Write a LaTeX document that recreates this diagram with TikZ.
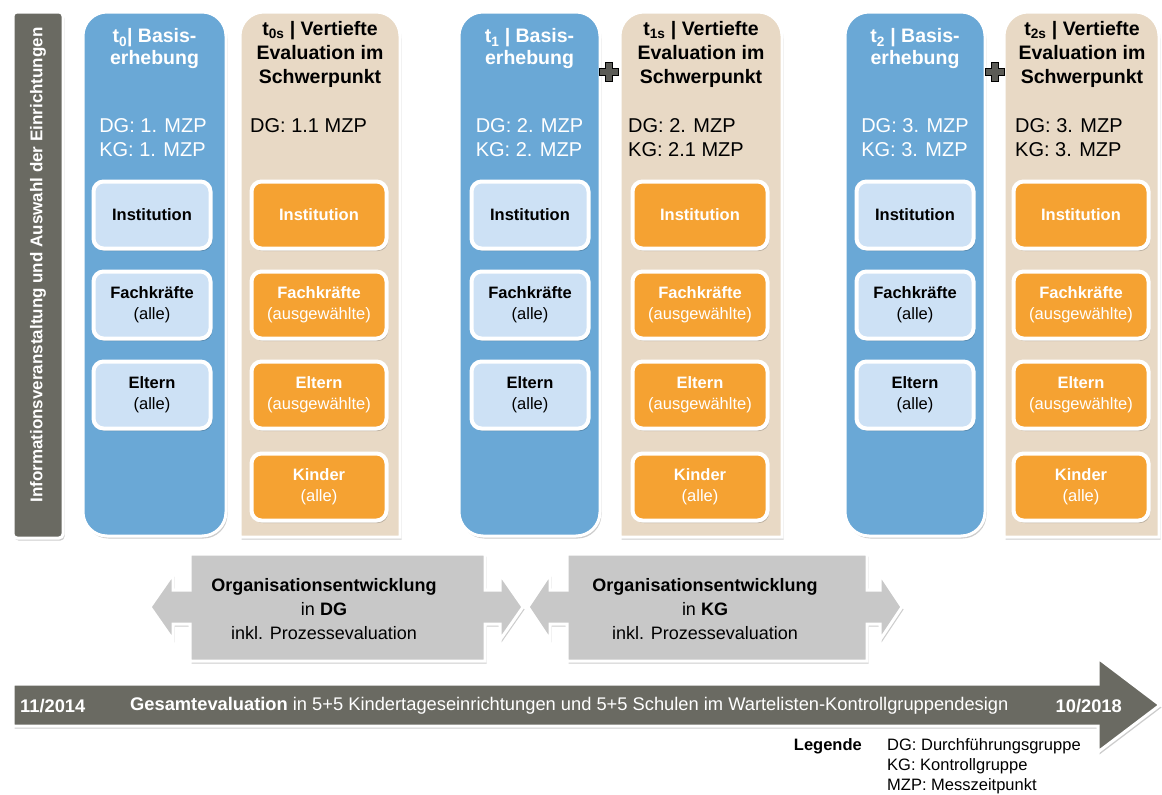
\documentclass[tikz,border=0pt]{standalone}
\usepackage{fontspec}
\setmainfont{Liberation Sans}
\usetikzlibrary{shadows}

\definecolor{colblue}{HTML}{6AA8D6}
\definecolor{boxblue}{HTML}{CDE1F5}
\definecolor{colbeige}{HTML}{E8D9C5}
\definecolor{boxorange}{HTML}{F5A232}
\definecolor{arrowgray}{HTML}{C8C8C8}
\definecolor{slatebar}{HTML}{6A6A62}
\definecolor{plusgray}{HTML}{5B5B56}

\newcommand{\fsHead}{\fontsize{19.5}{22}\selectfont\bfseries}
\newcommand{\fsHeadS}{\fontsize{19.5}{24}\selectfont\bfseries}
\newcommand{\fsMzp}{\fontsize{20}{24}\selectfont}
\newcommand{\fsBox}{\fontsize{16.5}{21}\selectfont}
\newcommand{\fsOrg}{\fontsize{18}{24}\selectfont}
\newcommand{\fsTime}{\fontsize{18.3}{21}\selectfont}
\newcommand{\fsLeg}{\fontsize{16.5}{20}\selectfont}

\begin{document}
\begin{tikzpicture}[x=1pt,y=1pt,
  softshadow/.style={drop shadow={shadow xshift=1.5pt,shadow yshift=-2.5pt,opacity=0.2,fill=black}},
  whiteedge/.style={draw=white,line width=3pt},
  bluecol/.style={fill=colblue,whiteedge,rounded corners=24pt,softshadow},
  beigecol/.style={fill=colbeige,whiteedge,softshadow},
  innerbox/.style={draw=white,line width=4pt,rounded corners=10pt,minimum height=67pt,
    align=center,font=\fsBox,softshadow},
  bluebox/.style={innerbox,fill=boxblue,text=black,minimum width=117pt},
  orangebox/.style={innerbox,fill=boxorange,text=white,minimum width=135pt},
  bluehead/.style={align=center,font=\fsHead,text=white,inner sep=0pt},
  beigehead/.style={align=center,font=\fsHeadS,text=black,inner sep=0pt},
  mzpblue/.style={align=left,font=\fsMzp,text=white,inner sep=0pt},
  mzpbeige/.style={align=left,font=\fsMzp,text=black,inner sep=0pt,anchor=west},
  plusmark/.style={fill=plusgray,draw=black,line width=0.6pt},
  orgarrow/.style={fill=arrowgray,whiteedge,line join=miter,softshadow},
  orgtext/.style={align=center,font=\fsOrg,text=black,inner sep=0pt},
  timetext/.style={font=\fsTime,text=white,inner sep=0pt},
  legtext/.style={font=\fsLeg,text=black,inner sep=0pt}
]
\useasboundingbox (0,0) rectangle (1162,-795);

% side bar with the preparatory phase
\path[fill=slatebar,whiteedge,rounded corners=4pt,softshadow] (13,-12) rectangle (63,-538);
\node[rotate=90,font=\fontsize{17}{20}\selectfont\bfseries,text=white,inner sep=0pt] (info)
  at (38,-265) {Informationsveranstaltung und Auswahl der Einrichtungen};

% basic survey columns
\path[bluecol] (83,-12) rectangle (226,-536);
\path[bluecol] (459,-12) rectangle (600,-536);
\path[bluecol] (845,-12) rectangle (985,-536);

% in-depth evaluation columns (rounded at the top only)
\foreach \xa/\xb in {240/400, 620/782, 1004/1159}{
  \path[beigecol] (\xa,-537) -- (\xa,-36) arc[start angle=180,end angle=90,radius=24pt]
    -- (\xb-24,-12) arc[start angle=90,end angle=0,radius=24pt] -- (\xb,-537) -- cycle;
}

% plus signs between the columns
\foreach \px in {609,995}{
  \path[plusmark,shift={(\px,-72)}] (-3.5,-9.5) -- (3.5,-9.5) -- (3.5,-3.5) -- (9.5,-3.5)
    -- (9.5,3.5) -- (3.5,3.5) -- (3.5,9.5) -- (-3.5,9.5) -- (-3.5,3.5) -- (-9.5,3.5)
    -- (-9.5,-3.5) -- (-3.5,-3.5) -- cycle;
}

% column headings
\node[bluehead] (h0) at (154.5,-49) {t\textsubscript{0}| Basis-\\erhebung};
\node[bluehead] (h1) at (529.5,-49) {t\textsubscript{1} | Basis-\\erhebung};
\node[bluehead] (h2) at (915,-49) {t\textsubscript{2} | Basis-\\erhebung};
\node[beigehead] (s0) at (320,-54) {t\textsubscript{0s} | Vertiefte\\Evaluation im\\Schwerpunkt};
\node[beigehead] (s1) at (701,-54) {t\textsubscript{1s} | Vertiefte\\Evaluation im\\Schwerpunkt};
\node[beigehead] (s2) at (1082,-54) {t\textsubscript{2s} | Vertiefte\\Evaluation im\\Schwerpunkt};

% measurement points
\node[mzpblue] (m0) at (153,-138) {DG: 1. MZP\\KG: 1. MZP};
\node[mzpblue] (m1) at (529.5,-138) {DG: 2. MZP\\KG: 2. MZP};
\node[mzpblue] (m2) at (915,-138) {DG: 3. MZP\\KG: 3. MZP};
\node[mzpbeige] (n0) at (250,-126) {DG: 1.1 MZP};
\node[mzpbeige] (n1) at (628,-138) {DG: 2. MZP\\KG: 2.1 MZP};
\node[mzpbeige] (n2) at (1015,-138) {DG: 3. MZP\\KG: 3. MZP};

% survey groups, basic survey
\foreach \c/\x in {0/152, 1/530, 2/915}{
  \node[bluebox] (b\c i) at (\x,-215) {\textbf{Institution}};
  \node[bluebox] (b\c f) at (\x,-305) {\textbf{Fachkräfte}\\(alle)};
  \node[bluebox] (b\c e) at (\x,-395) {\textbf{Eltern}\\(alle)};
}

% survey groups, in-depth evaluation
\foreach \c/\x in {0/319, 1/700, 2/1081}{
  \node[orangebox] (o\c i) at (\x,-215) {\textbf{Institution}};
  \node[orangebox] (o\c f) at (\x,-305) {\textbf{Fachkräfte}\\(ausgewählte)};
  \node[orangebox] (o\c e) at (\x,-395) {\textbf{Eltern}\\(ausgewählte)};
  \node[orangebox] (o\c k) at (\x,-487) {\textbf{Kinder}\\(alle)};
}

% organisational development, two-headed callout arrows
\path[orgarrow] (150,-607) -- (173,-574) -- (173,-590) -- (190,-590) -- (190,-554)
  -- (485,-554) -- (485,-590) -- (500,-590) -- (500,-574) -- (523,-607)
  -- (500,-640) -- (500,-624) -- (485,-624) -- (485,-661) -- (190,-661)
  -- (190,-624) -- (173,-624) -- (173,-640) -- cycle;
\path[orgarrow] (528,-607) -- (550,-574) -- (550,-590) -- (567,-590) -- (567,-554)
  -- (867,-554) -- (867,-590) -- (880,-590) -- (880,-574) -- (902,-607)
  -- (880,-640) -- (880,-624) -- (867,-624) -- (867,-661) -- (567,-661)
  -- (567,-624) -- (550,-624) -- (550,-640) -- cycle;
\node[orgtext] (od1) at (324,-609)
  {\textbf{Organisationsentwicklung}\\in \textbf{DG}\\inkl. Prozessevaluation};
\node[orgtext] (od2) at (705,-609)
  {\textbf{Organisationsentwicklung}\\in \textbf{KG}\\inkl. Prozessevaluation};

% overall time line
\path[fill=slatebar,whiteedge,line join=miter,softshadow] (13,-684) -- (1098,-684) -- (1098,-658)
  -- (1160,-705) -- (1098,-752) -- (1098,-726) -- (13,-726) -- cycle;
\node[timetext,anchor=west] (tstart) at (20,-706) {\textbf{11/2014}};
\node[timetext,anchor=west] (tmain) at (130,-706)
  {\textbf{Gesamtevaluation} in 5+5 Kindertageseinrichtungen und 5+5 Schulen im Wartelisten-Kontrollgruppendesign};
\node[timetext,anchor=east] (tend) at (1122,-706) {\textbf{10/2018}};

% legend
\node[legtext,anchor=east] (leg) at (862,-746) {\textbf{Legende}};
\node[legtext,anchor=west,align=left] (legitems) at (887,-766)
  {DG: Durchführungsgruppe\\KG: Kontrollgruppe\\MZP: Messzeitpunkt};
\end{tikzpicture}
\end{document}
